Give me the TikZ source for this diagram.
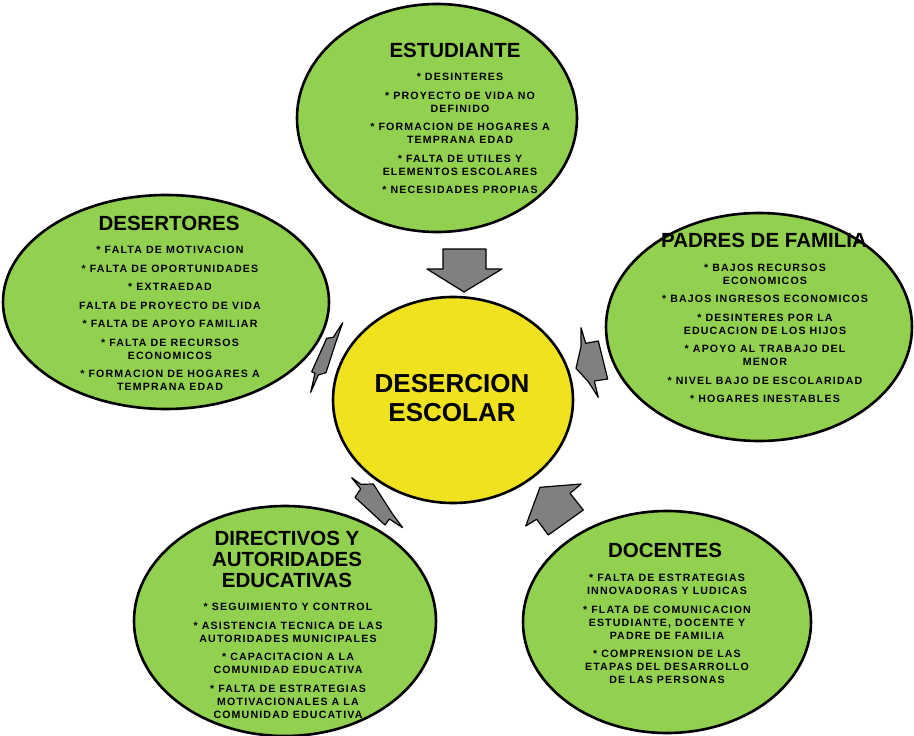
\documentclass[tikz,border=0pt]{standalone}
\usepackage{fontspec}
\setmainfont{Liberation Sans}
\newfontfamily\itemfont[LetterSpace=11]{Liberation Sans}
\usepackage{tikz}
\usetikzlibrary{shapes,positioning}

\definecolor{verde}{RGB}{146,208,80}
\definecolor{amarillo}{RGB}{240,226,30}
\definecolor{gris}{RGB}{128,128,128}

\begin{document}
\begin{tikzpicture}[x=1pt,y=-1pt]
		\tikzstyle{elip}=[ellipse, draw=black, line width=2.6pt, fill=verde, inner sep=0pt]
		\tikzstyle{titulo}=[font=\bfseries\fontsize{20.5}{21}\selectfont, align=center, inner sep=0pt]
		\tikzstyle{lista}=[font=\itemfont\bfseries\fontsize{10.6}{13}\selectfont, align=center, inner sep=0pt]
		\tikzstyle{flecha}=[fill=gris, draw=black, line width=1.2pt, line join=round]

		\useasboundingbox (0,0) rectangle (914,736);

		\node[elip, fill=amarillo, minimum width=240pt, minimum height=206pt] (N0) at (453,400) {};
		\node[elip, minimum width=280pt, minimum height=228pt] (N1) at (437,118) {};
		\node[elip, minimum width=326pt, minimum height=214pt] (N2) at (166,302) {};
		\node[elip, minimum width=306pt, minimum height=228pt] (N3) at (759,327) {};
		\node[elip, minimum width=302pt, minimum height=230pt] (N4) at (285,621) {};
		\node[elip, minimum width=288pt, minimum height=222pt] (N5) at (667,622) {};

		\node[font=\bfseries\fontsize{26}{29}\selectfont, align=center, inner sep=0pt] (C0) at (452,398) {DESERCION\\ESCOLAR};

		\node[titulo] (T1) at (455,50) {ESTUDIANTE};
		\node[lista] (L1) at (460,133.5) {* DESINTERES\\[5.5pt]
			* PROYECTO DE VIDA NO\\DEFINIDO\\[5.5pt]
			* FORMACION DE HOGARES A\\TEMPRANA EDAD\\[5.5pt]
			* FALTA DE UTILES Y\\ELEMENTOS ESCOLARES\\[5.5pt]
			* NECESIDADES PROPIAS};

		\node[titulo] (T2) at (169,223) {DESERTORES};
		\node[lista] (L2) at (170,318.5) {* FALTA DE MOTIVACION\\[5.5pt]
			* FALTA DE OPORTUNIDADES\\[5.5pt]
			* EXTRAEDAD\\[5.5pt]
			FALTA DE PROYECTO DE VIDA\\[5.5pt]
			* FALTA DE APOYO FAMILIAR\\[5.5pt]
			* FALTA DE RECURSOS\\ECONOMICOS\\[5.5pt]
			* FORMACION DE HOGARES A\\TEMPRANA EDAD};

		\node[titulo] (T3) at (764,240) {PADRES DE FAMILIA};
		\node[lista] (L3) at (765,333.5) {* BAJOS RECURSOS\\ECONOMICOS\\[5.5pt]
			* BAJOS INGRESOS ECONOMICOS\\[5.5pt]
			* DESINTERES POR LA\\EDUCACION DE LOS HIJOS\\[5.5pt]
			* APOYO AL TRABAJO DEL\\MENOR\\[5.5pt]
			* NIVEL BAJO DE ESCOLARIDAD\\[5.5pt]
			* HOGARES INESTABLES};

		\node[titulo] (T4) at (287,559) {DIRECTIVOS Y\\AUTORIDADES\\EDUCATIVAS};
		\node[lista] (L4) at (288,661) {* SEGUIMIENTO Y CONTROL\\[5.5pt]
			* ASISTENCIA TECNICA DE LAS\\AUTORIDADES MUNICIPALES\\[5.5pt]
			* CAPACITACION A LA\\COMUNIDAD EDUCATIVA\\[5.5pt]
			* FALTA DE ESTRATEGIAS\\MOTIVACIONALES A LA\\COMUNIDAD EDUCATIVA};

		\node[titulo] (T5) at (665,550) {DOCENTES};
		\node[lista] (L5) at (667,629) {* FALTA DE ESTRATEGIAS\\INNOVADORAS Y LUDICAS\\[5.5pt]
			* FLATA DE COMUNICACION\\ESTUDIANTE, DOCENTE Y\\PADRE DE FAMILIA\\[5.5pt]
			* COMPRENSION DE LAS\\ETAPAS DEL DESARROLLO\\DE LAS PERSONAS};

		% flechas hacia el centro
		\draw[flecha] (443,249) -- (486,249) -- (486,269) -- (502,269) -- (464,292) -- (427,269) -- (443,269) -- cycle;
		\draw[flecha] (342.7,322.7) -- (336,341.7) -- (326,372.7) -- (318.3,375) -- (310.7,392.3) -- (315,373.3) -- (311.7,371.7) -- (326.7,338.3) -- (333.3,337.3) -- cycle;
		\draw[flecha] (581,327.7) -- (585.7,343.3) -- (598.3,341) -- (607.7,379) -- (594.3,381) -- (598.3,397.3) -- (588.3,381.7) -- (576,368.3) -- (581,346.7) -- cycle;
		\draw[flecha] (351.7,477.7) -- (360.7,484.3) -- (373.3,484) -- (392.7,514.3) -- (402.7,527.7) -- (389.3,519) -- (385,525) -- (355,497.3) -- (360.7,489) -- cycle;
		\draw[flecha] (540,487.3) -- (581,484) -- (570,493.3) -- (583.3,510) -- (548.3,535) -- (536.7,519.3) -- (525.7,526) -- cycle;

    \end{tikzpicture}
\end{document}
